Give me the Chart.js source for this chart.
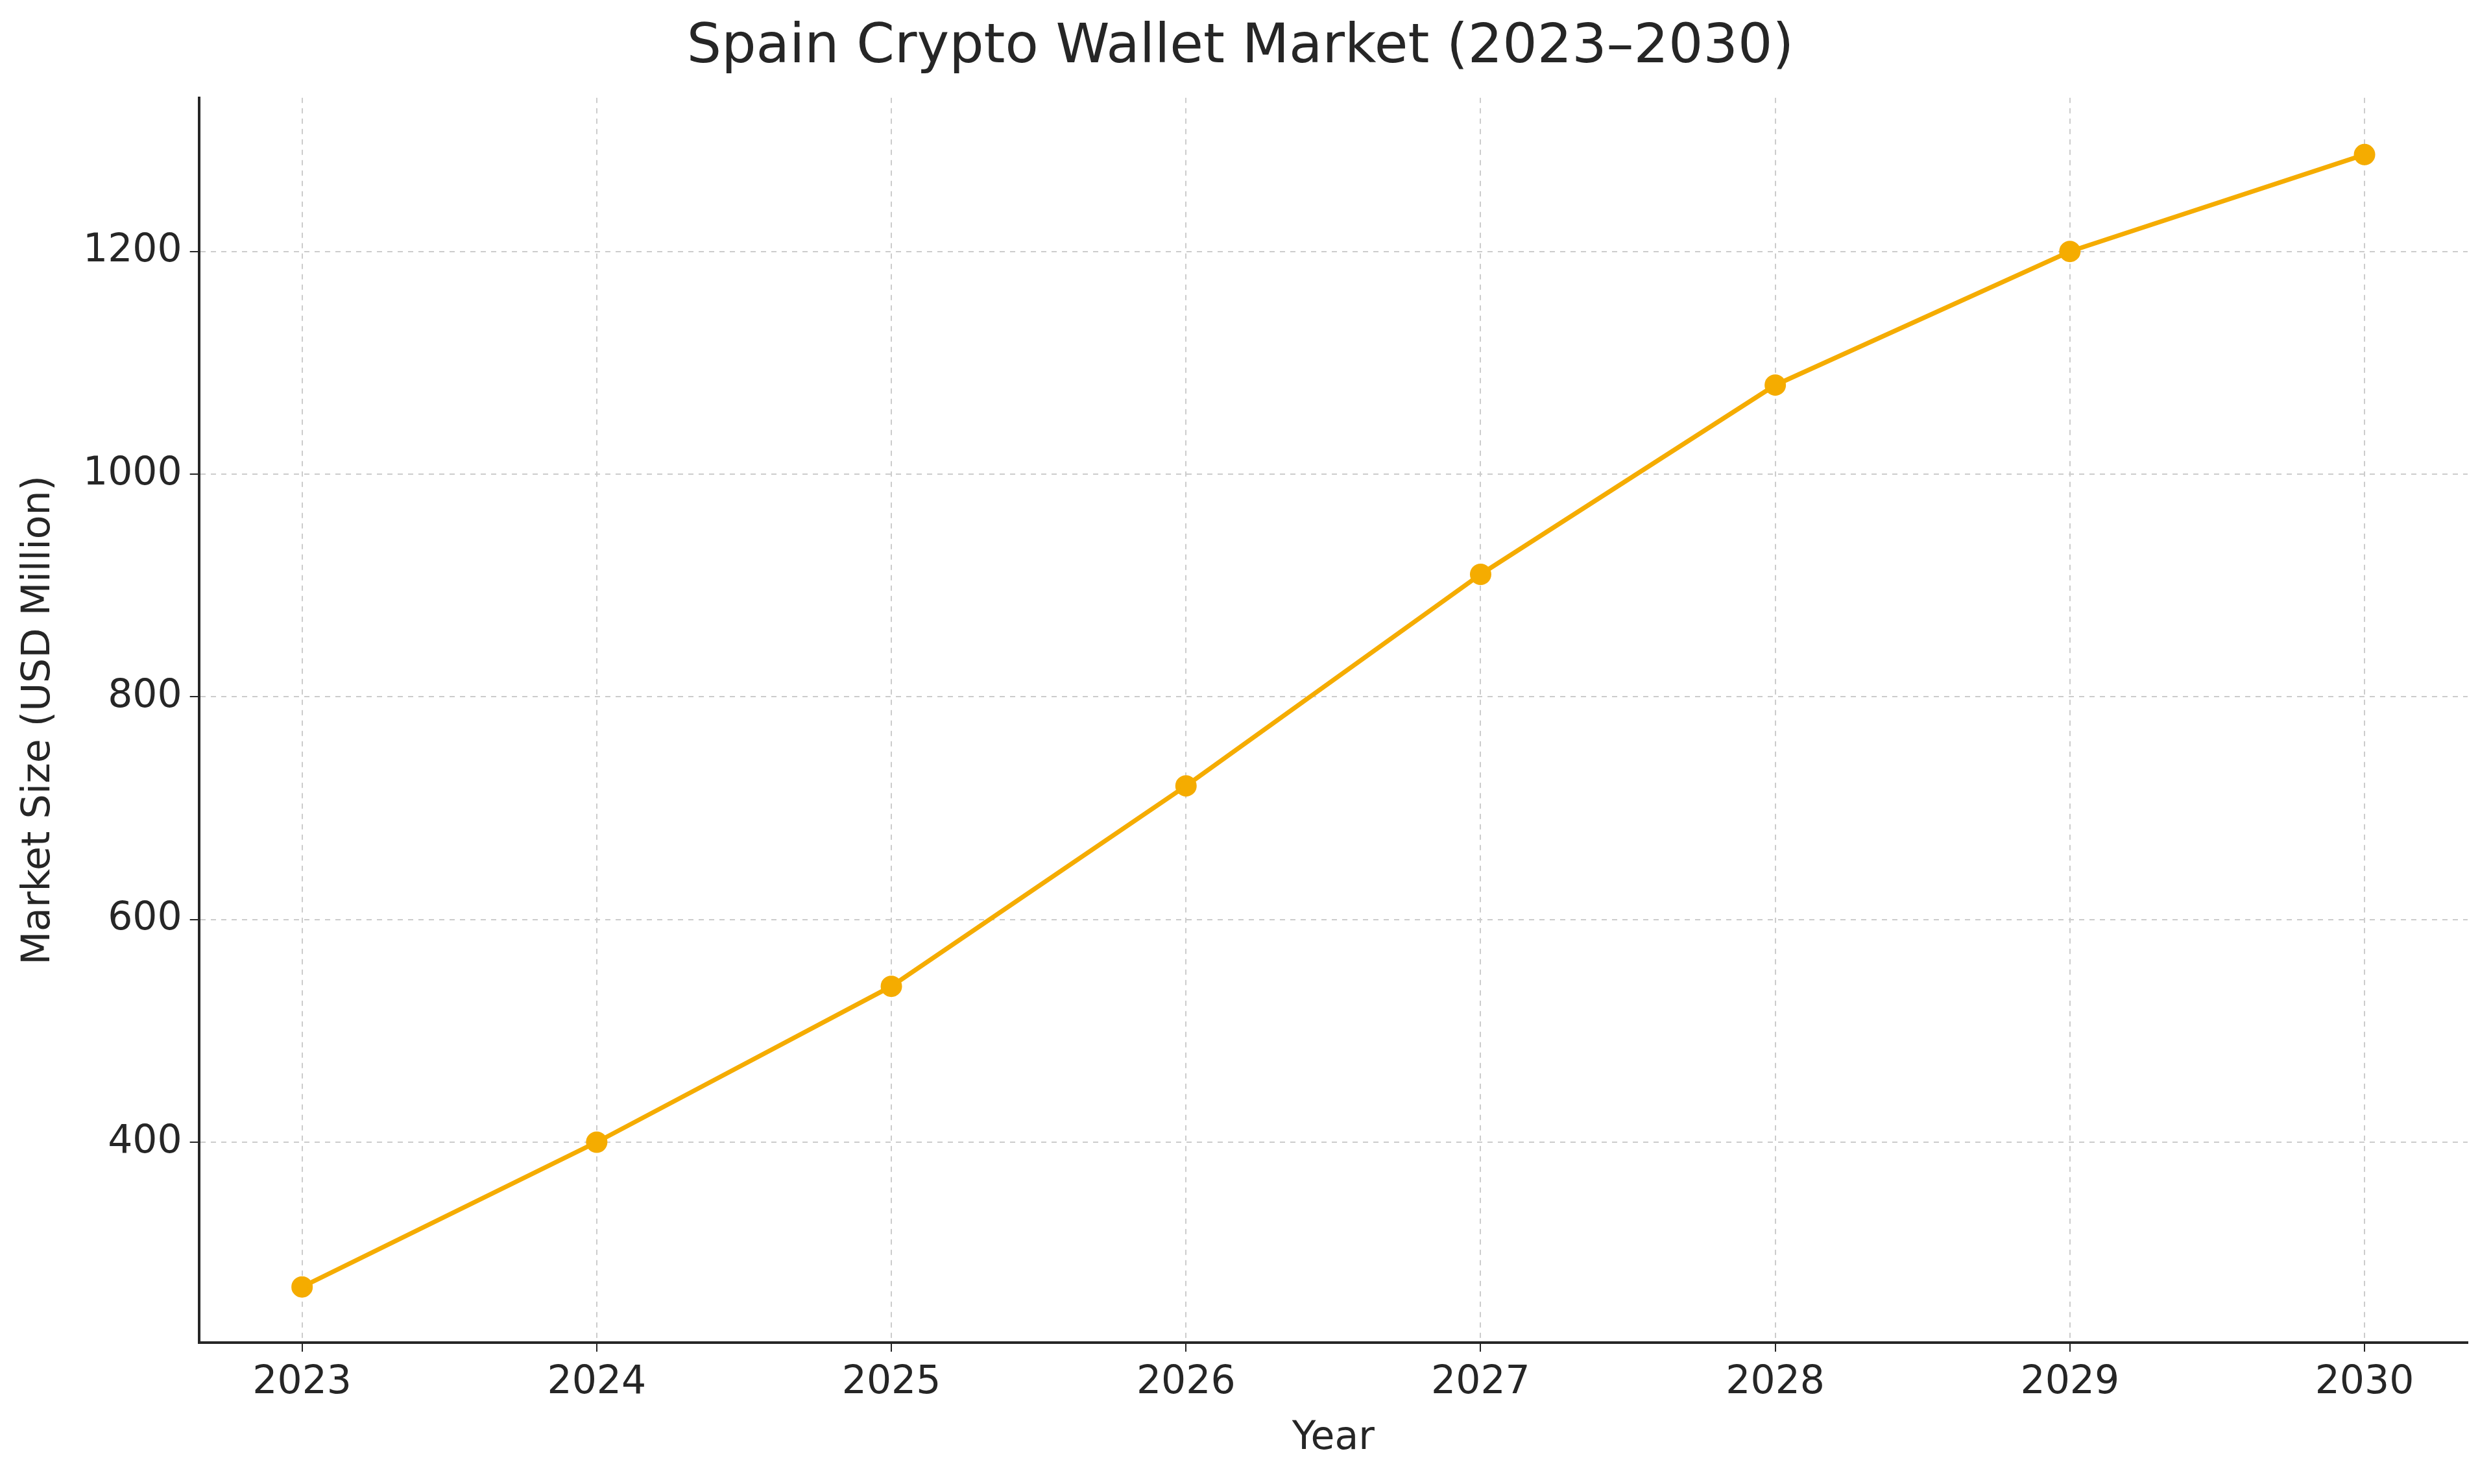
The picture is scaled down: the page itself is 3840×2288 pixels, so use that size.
<!DOCTYPE html>
<html>
<head>
<meta charset="utf-8">
<script src="https://cdn.jsdelivr.net/npm/chart.js@4"></script>
<style>
  body { margin: 0; background: #fff; }
  #wrap { width: 3840px; height: 2288px; }
</style>
</head>
<body>
<div id="wrap"><canvas id="marketChart"></canvas></div>
<script>
// Data
const years = [2023, 2024, 2025, 2026, 2027, 2028, 2029, 2030];
const marketSize = [270, 400, 540, 720, 910, 1080, 1200, 1287];
const yTicks = [400, 600, 800, 1000, 1200];

const lineColor = '#f5ac00';
const gridColor = '#cccccc';
const font = "'DejaVu Sans', sans-serif";

const ctx = document.getElementById("marketChart").getContext("2d");
new Chart(ctx, {
    type: 'line',
    data: {
        datasets: [{
            data: years.map((y, i) => ({ x: y, y: marketSize[i] })),
            borderColor: lineColor,
            backgroundColor: lineColor,
            borderWidth: 7,
            pointRadius: 13,
            pointHoverRadius: 13,
            tension: 0
        }]
    },
    options: {
        responsive: true,
        maintainAspectRatio: false,
        animation: false,
        layout: { padding: { left: 20, right: 36, top: 24, bottom: 30 } },
        plugins: {
            legend: { display: false },
            tooltip: { enabled: false },
            title: {
                display: true,
                text: 'Spain Crypto Wallet Market (2023–2030)',
                color: '#262626',
                font: { family: font, size: 84, weight: 'normal' },
                padding: { top: 0, bottom: 26 }
            }
        },
        scales: {
            x: {
                type: 'linear',
                min: 2022.65,
                max: 2030.35,
                afterBuildTicks: s => { s.ticks = years.map(v => ({ value: v })); },
                ticks: {
                    color: '#262626',
                    font: { family: font, size: 60 },
                    callback: v => String(v),
                    padding: 12
                },
                grid: {
                    color: gridColor,
                    lineWidth: 2,
                    tickLength: 14,
                    tickColor: '#262626'
                },
                border: { display: true, color: '#262626', width: 4, dash: [8, 8] },
                title: {
                    display: true,
                    text: 'Year',
                    color: '#262626',
                    font: { family: font, size: 60 },
                    padding: { top: 2 }
                }
            },
            y: {
                min: 220,
                max: 1338,
                afterBuildTicks: s => { s.ticks = yTicks.map(v => ({ value: v })); },
                ticks: {
                    color: '#262626',
                    font: { family: font, size: 60 },
                    callback: v => String(v),
                    padding: 12
                },
                grid: {
                    color: gridColor,
                    lineWidth: 2,
                    tickLength: 14,
                    tickColor: '#262626'
                },
                border: { display: true, color: '#262626', width: 4, dash: [8, 8] },
                title: {
                    display: true,
                    text: 'Market Size (USD Million)',
                    color: '#262626',
                    font: { family: font, size: 60 },
                    padding: { bottom: 20 }
                }
            }
        }
    }
});
</script>
</body>
</html>
